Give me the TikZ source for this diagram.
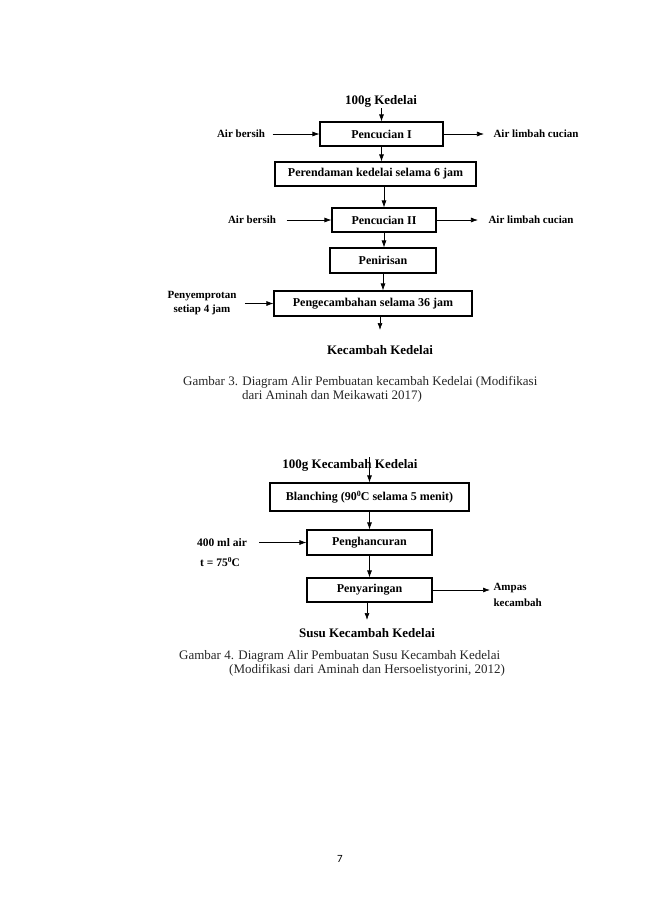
\documentclass[tikz,border=0pt]{standalone}
\usepackage{fontspec}
\setmainfont{Liberation Serif}
\newfontfamily\pagefont{Carlito}
\usepackage{tikz}
\usetikzlibrary{arrows.meta,positioning,calc}

\begin{document}
\begin{tikzpicture}[
    x=1pt, y=-1pt,
    >={Latex[length=7pt,width=5pt]},
    box/.style={rectangle, draw, line width=1.1pt, minimum height=24pt, inner sep=2pt, align=center, font=\bfseries\fontsize{12}{14}\selectfont},
    lbl/.style={align=center, font=\bfseries\fontsize{11}{14}\selectfont},
    ujung/.style={font=\bfseries\fontsize{13}{15}\selectfont},
    judul/.style={anchor=west, inner sep=0pt, text=black!85, font=\fontsize{13}{15}\selectfont},
    arr/.style={->, line width=0.7pt},
]
    \useasboundingbox (0,0) rectangle (650,919);

    % Gambar 3: steps
    \node[ujung, inner sep=1pt] (kedelai) at (381, 101) {100g Kedelai};
    \node[box, minimum width=123pt] (cuci1) at (381.5, 134) {Pencucian I};
    \node[box, minimum width=201pt] (rendam) at (375.5, 174) {Perendaman kedelai selama 6 jam};
    \node[box, minimum width=104pt] (cuci2) at (384, 220) {Pencucian II};
    \node[box, minimum width=106pt, minimum height=25pt] (tiris) at (383, 260.5) {Penirisan};
    \node[box, minimum width=198pt, minimum height=25pt] (cambah) at (373, 303.5) {Pengecambahan selama 36 jam};
    \node[ujung] (hasilA) at (380, 350) {Kecambah Kedelai};
    \coordinate (outA) at (380, 330);

    % Gambar 3: inputs and outputs
    \node[lbl] (airA) at (241, 134) {Air bersih};
    \node[lbl] (limbahA) at (536, 134) {Air limbah cucian};
    \node[lbl] (airB) at (252, 220) {Air bersih};
    \node[lbl] (limbahB) at (531, 220) {Air limbah cucian};
    \node[lbl] (semprot) at (202, 303.5) {Penyemprotan\\setiap 4 jam};

    % Gambar 3: arrows
    \draw[arr] (kedelai.south -| cuci1) -- (cuci1.north);
    \draw[arr] (cuci1.south) -- (cuci1.south |- rendam.north);
    \draw[arr] (cuci2.north |- rendam.south) -- (cuci2.north);
    \draw[arr] (cuci2.south) -- (cuci2.south |- tiris.north);
    \draw[arr] (tiris.south) -- (tiris.south |- cambah.north);
    \draw[arr] (outA |- cambah.south) -- (outA);
    \draw[arr, shorten <=4pt] (airA) -- (cuci1);
    \draw[arr, shorten >=6pt] (cuci1) -- (limbahA);
    \draw[arr, shorten <=7pt] (airB) -- (cuci2);
    \draw[arr, shorten >=7pt] (cuci2) -- (limbahB);
    \draw[arr, shorten <=5pt] (semprot) -- (cambah);

    \node[judul] (cap3a) at (183, 382) {Gambar 3. Diagram Alir Pembuatan kecambah Kedelai (Modifikasi};
    \node[judul] (cap3b) at (242, 396) {dari Aminah dan Meikawati 2017)};

    % Gambar 4: steps
    \node[ujung] (kecambahB) at (350, 465) {100g Kecambah Kedelai};
    \coordinate (inB) at (369.5, 457);
    \node[box, minimum width=199pt, minimum height=28pt] (blanch) at (369.5, 497) {Blanching (90{\fontsize{8}{8}\selectfont\raisebox{4pt}{0}}C selama 5 menit)};
    \node[box, minimum width=125pt, minimum height=25pt] (hancur) at (369.5, 542.5) {Penghancuran};
    \node[box, minimum width=125pt] (saring) at (369.5, 590) {Penyaringan};
    \node[ujung] (susu) at (367, 633) {Susu Kecambah Kedelai};
    \coordinate (outB) at (367, 620);

    % Gambar 4: inputs and outputs
    \node[lbl, font=\bfseries\fontsize{11.5}{14}\selectfont] (air400) at (222, 542.5) {400 ml air};
    \node[lbl, font=\bfseries\fontsize{11.5}{14}\selectfont] (suhu) at (220, 562) {t = 75{\fontsize{7.5}{8}\selectfont\raisebox{4pt}{0}}C};
    \node[lbl, anchor=west, align=left, font=\bfseries\fontsize{11}{16}\selectfont] (ampas) at (490, 595) {Ampas\\kecambah};

    % Gambar 4: arrows
    \draw[arr] (inB) -- (blanch.north);
    \draw[arr] (blanch) -- (hancur);
    \draw[arr] (hancur) -- (saring);
    \draw[arr] (outB |- saring.south) -- (outB);
    \draw[arr, shorten <=9pt] (air400) -- (hancur);
    \draw[arr] (saring.east) -- (saring.east -| ampas.west);

    \node[judul] (cap4a) at (179, 656) {Gambar 4. Diagram Alir Pembuatan Susu Kecambah Kedelai};
    \node[judul] (cap4b) at (229, 670) {(Modifikasi dari Aminah dan Hersoelistyorini, 2012)};

    % page number
    \node[font=\pagefont\fontsize{11}{13}\selectfont] (halaman) at (340, 859) {7};
\end{tikzpicture}
\end{document}
